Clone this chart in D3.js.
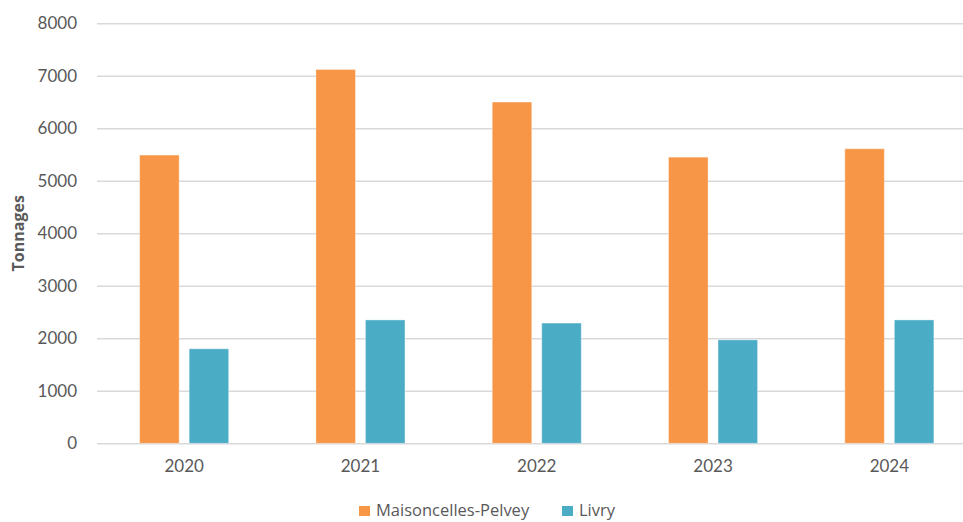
<!DOCTYPE html>
<html>
<head>
<meta charset="utf-8">
<script src="https://cdn.jsdelivr.net/npm/d3@7"></script>
<style>
  html, body { margin: 0; padding: 0; background: #fff; }
  svg { display: block; font-family: "Open Sans", Lato, sans-serif; }
</style>
</head>
<body>
<svg id="chart" width="963" height="522"></svg>
<script>
const years = ["2020", "2021", "2022", "2023", "2024"];
const seriesNames = ["Maisoncelles-Pelvey", "Livry"];
const maisoncelles = [5490, 7120, 6500, 5450, 5610];
const livry = [1800, 2350, 2290, 1970, 2350];
const yTicks = [0, 1000, 2000, 3000, 4000, 5000, 6000, 7000, 8000];
const colors = ["#F79646", "#4BACC6"];
const yTitle = "Tonnages";

const seriesValues = [maisoncelles, livry];
const svg = d3.select("#chart");
const textColor = "#595959";

const x0 = d3.scaleBand().domain(years).range([96, 977.5])
  .paddingInner(0.495).paddingOuter(0.2475);
const x1 = d3.scaleBand().domain(seriesNames).range([0, x0.bandwidth()]).paddingInner(0.202);
const y = d3.scaleLinear().domain([0, 8000]).range([443.3, 23.3]);

// gridlines
const yAxis = d3.axisLeft(y).tickValues(yTicks).tickSize(-(963 - 97)).tickPadding(20).tickFormat(d3.format("d"));
const gy = svg.append("g").attr("transform", "translate(97,0)").call(yAxis);
gy.select(".domain").remove();
gy.selectAll(".tick line").attr("stroke", "#d9d9d9").attr("stroke-width", 1.4);
gy.selectAll(".tick text").attr("fill", textColor).attr("font-size", 17).attr("font-family", "Lato, sans-serif");

// bars
const groups = svg.append("g").selectAll("g").data(years).join("g")
  .attr("transform", d => `translate(${x0(d)},0)`);
groups.selectAll("rect")
  .data((d, i) => seriesNames.map((s, j) => ({ s, j, v: seriesValues[j][i] })))
  .join("rect")
  .attr("x", d => x1(d.s))
  .attr("width", x1.bandwidth())
  .attr("y", d => y(d.v))
  .attr("height", d => y(0) - y(d.v))
  .attr("fill", d => colors[d.j])
  .attr("stroke", "#fff")
  .attr("stroke-opacity", 0.35)
  .attr("stroke-width", 1);

// x axis
const xAxis = d3.axisBottom(x0).tickSize(0).tickPadding(17);
const gx = svg.append("g").attr("transform", `translate(0,${y(0)})`).call(xAxis);
gx.select(".domain").remove();
gx.selectAll(".tick text").attr("fill", textColor).attr("font-size", 17).attr("font-family", "Lato, sans-serif");

// y title
svg.append("text")
  .attr("transform", `translate(24,${(y(0) + y(8000)) / 2}) rotate(-90)`)
  .attr("text-anchor", "middle")
  .attr("fill", textColor)
  .attr("font-size", 16)
  .attr("font-weight", "bold")
  .attr("font-family", "'Open Sans', sans-serif")
  .text(yTitle);

// legend
const legend = svg.append("g");
const legendItems = [
  { name: seriesNames[0], color: colors[0], x: 359 },
  { name: seriesNames[1], color: colors[1], x: 562 }
];
legendItems.forEach(it => {
  legend.append("rect").attr("x", it.x).attr("y", 506).attr("width", 11).attr("height", 10).attr("fill", it.color);
  legend.append("text").attr("x", it.x + 17).attr("y", 516)
    .attr("fill", textColor).attr("font-size", 16.5)
    .attr("font-family", "'Open Sans', sans-serif").text(it.name);
});
</script>
</body>
</html>
